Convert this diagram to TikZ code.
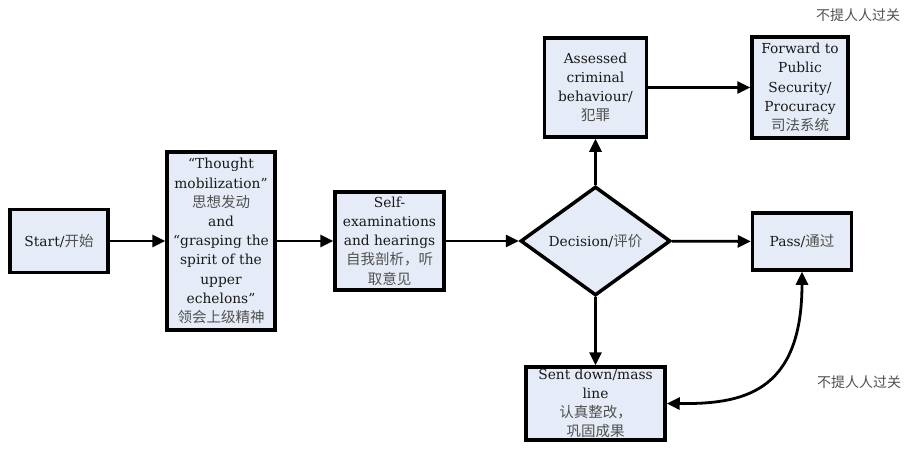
\documentclass[tikz,border=0pt]{standalone}
\usepackage{fontspec}
\setmainfont{DejaVu Serif}
\newfontfamily\cjkfont{Noto Sans CJK SC}
\usetikzlibrary{arrows.meta,shapes.geometric}
\definecolor{boxfill}{RGB}{230,236,247}
\definecolor{txtcol}{RGB}{25,25,25}
\definecolor{zhcol}{RGB}{80,80,80}
\newcommand\zhs[1]{{\cjkfont\fontsize{14.5}{19}\selectfont\color{zhcol}#1}}
\begin{document}
\begin{tikzpicture}[x=1pt,y=-1pt,
  box/.style={draw=black,line width=3.5pt,fill=boxfill,align=center,inner sep=0pt,
    font=\fontsize{13.8}{19.2}\selectfont,text=txtcol},
  arr/.style={line width=2.8pt,-{Triangle[length=13pt,width=12pt]}},
  dbl/.style={line width=2.8pt,{Triangle[length=13pt,width=12pt]}-{Triangle[length=13pt,width=12pt]}},
  note/.style={font=\cjkfont\fontsize{14}{16}\selectfont,text=zhcol}]
\useasboundingbox (0,0) rectangle (913,448);

\node[box,minimum width=98pt,minimum height=63pt] (start) at (59,241) {Start/\zhs{开始}};
\node[box,minimum width=108pt,minimum height=178pt] (thought) at (221,241)
  {“Thought\\ mobilization”\\ \zhs{思想发动}\\ and\\ “grasping the\\ spirit of the\\ upper\\ echelons”\\ \zhs{领会上级精神}};
\node[box,minimum width=109pt,minimum height=98pt] (self) at (389.5,241)
  {Self-\\ examinations\\ and hearings\\ \zhs{自我剖析，听}\\ \zhs{取意见}};
\node[box,diamond,minimum width=150pt,minimum height=109pt] (dec) at (595.5,241) {Decision/\zhs{评价}};
\node[box,minimum width=102pt,minimum height=99pt] (assessed) at (595.5,87.5)
  {Assessed\\ criminal\\ behaviour/\\ \zhs{犯罪}};
\node[box,minimum width=96pt,minimum height=101pt] (forward) at (800,87.5)
  {Forward to\\ Public\\ Security/\\ Procuracy\\ \zhs{司法系统}};
\node[box,minimum width=99pt,minimum height=57pt] (pass) at (802,241.5) {Pass/\zhs{通过}};
\node[box,minimum width=139pt,minimum height=73pt] (sent) at (595.5,403.5)
  {Sent down/mass\\ line\\ \zhs{认真整改，}\\ \zhs{巩固成果}};

\node[note] (note1) at (858,15) {不提人人过关};
\node[note] (note2) at (859,382) {不提人人过关};

\draw[arr] (start) -- (thought);
\draw[arr] (thought) -- (self);
\draw[arr] (self) -- (dec);
\draw[arr] (dec) -- (pass);
\draw[arr] (dec) -- (assessed);
\draw[arr] (assessed) -- (forward);
\draw[arr] (dec) -- (sent);
\draw[dbl] (pass.south) .. controls (802,395) and (740,404) .. (sent.east);
\end{tikzpicture}
\end{document}
